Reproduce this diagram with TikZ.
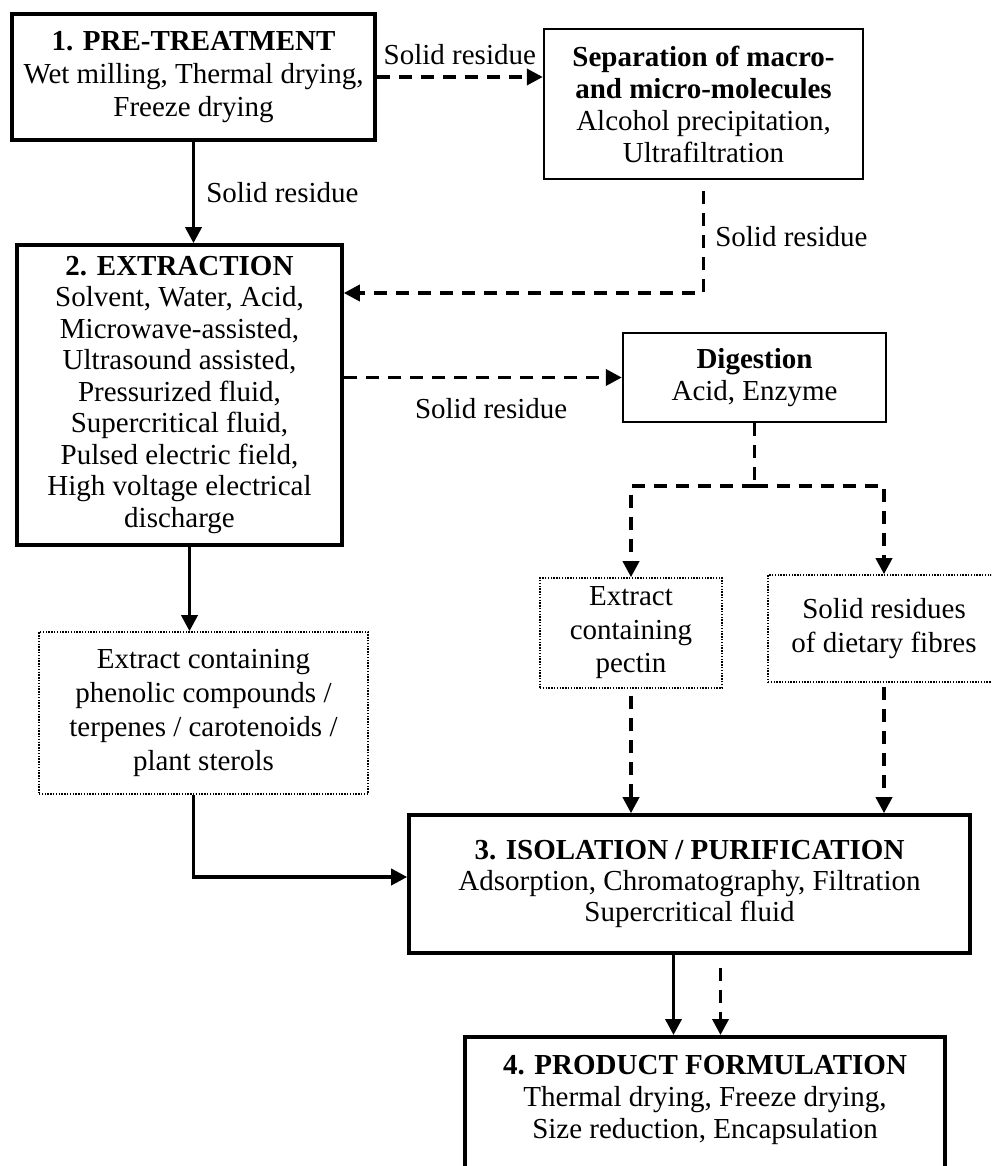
\documentclass[tikz,border=0pt]{standalone}
\usepackage{fontspec}
\setmainfont{Liberation Serif}
\usetikzlibrary{arrows.meta,positioning,calc}

\begin{document}
\begin{tikzpicture}[
    x=1pt, y=-1pt,
    every node/.style={font=\fontsize{29}{32}\selectfont},
    stage/.style={rectangle, draw, line width=3.6pt, inner sep=0pt, align=center},
    substage/.style={rectangle, draw, line width=2.4pt, inner sep=0pt, align=center},
    product/.style={rectangle, draw, line width=1.6pt, dash pattern=on 1.4pt off 1.4pt, inner sep=0pt, align=center, font=\fontsize{29}{33.5}\selectfont},
    arrow/.style={-{Triangle[length=16pt,width=16pt]}, line width=3.6pt},
    residue/.style={arrow, dash pattern=on 13pt off 9pt},
    lbl/.style={inner sep=0pt}
]
\useasboundingbox (0,0) rectangle (991,1166);
\clip (0,0) rectangle (991,1166);

% Main stages
\node[stage, minimum width=363pt, minimum height=126pt, font=\fontsize{29}{33}\selectfont] (pre) at (193.5,77)
    {\textbf{1. PRE-TREATMENT}\\Wet milling, Thermal drying,\\Freeze drying};
\node[stage, minimum width=325pt, minimum height=300pt, font=\fontsize{29}{31.5}\selectfont] (ext) at (179.5,395)
    {\textbf{2. EXTRACTION}\\Solvent, Water, Acid,\\Microwave-assisted,\\Ultrasound assisted,\\Pressurized fluid,\\Supercritical fluid,\\Pulsed electric field,\\High voltage electrical\\discharge};
\node[stage, minimum width=561pt, minimum height=138pt, font=\fontsize{29}{31}\selectfont] (iso) at (689.5,884)
    {\textbf{3. ISOLATION / PURIFICATION}\\Adsorption, Chromatography, Filtration\\Supercritical fluid};
\node[stage, minimum width=480pt, anchor=north, inner ysep=18pt] (form) at (705,1035)
    {\textbf{4. PRODUCT FORMULATION}\\Thermal drying, Freeze drying,\\Size reduction, Encapsulation\\[30pt]\mbox{}};

% Side steps
\node[substage, minimum width=319pt, minimum height=150pt] (sep) at (703.5,104)
    {\textbf{Separation of macro-}\\\textbf{and micro-molecules}\\Alcohol precipitation,\\Ultrafiltration};
\node[substage, minimum width=263pt, minimum height=89pt] (dig) at (754.5,377.5)
    {\textbf{Digestion}\\Acid, Enzyme};

% Products
\node[product, minimum width=329pt, minimum height=162pt, font=\fontsize{29}{34}\selectfont] (phen) at (203.5,713)
    {Extract containing\\phenolic compounds /\\terpenes / carotenoids /\\plant sterols};
\node[product, minimum width=182pt, minimum height=110pt] (pectin) at (631,633)
    {Extract\\containing\\pectin};
\node[product, minimum width=232pt, minimum height=107pt] (fibre) at (884,628.5)
    {Solid residues\\of dietary fibres};

% Connectors
\draw[arrow] (pre.south) -- (pre.south |- ext.north)
    node[lbl, midway, right=11pt] {Solid residue};
\draw[residue] (pre.east) -- (pre.east -| sep.west)
    node[lbl, midway, above=10pt] {Solid residue};
\draw[residue, shorten <=11pt] (sep.south) |- ([yshift=102pt]ext.east)
    node[lbl, pos=0.25, right=10pt] {Solid residue};
\draw[residue] (ext.east |- dig.west) -- (dig.west)
    node[lbl, pos=0.53, below=19pt] {Solid residue};
\draw[residue, -] (dig.south) -- ++(0,63) coordinate (fork);
\draw[residue] (fork) -| (pectin.north);
\draw[residue] (fork) -| (fibre.north);
\draw[residue, shorten <=7pt] (pectin.south) -- (pectin.south |- iso.north);
\draw[residue, shorten <=4pt] (fibre.south) -- (fibre.south |- iso.north);
\draw[arrow] ([xshift=10pt]ext.south) -- ([xshift=10pt]ext.south |- phen.north);
\draw[arrow] ([xshift=-10pt]phen.south) |- ([yshift=7pt]iso.west);
\draw[arrow] ([xshift=-16pt]iso.south) -- ([xshift=-16pt]iso.south |- form.north);
\draw[residue, shorten <=13pt] ([xshift=31pt]iso.south) -- ([xshift=31pt]iso.south |- form.north);

\end{tikzpicture}
\end{document}
